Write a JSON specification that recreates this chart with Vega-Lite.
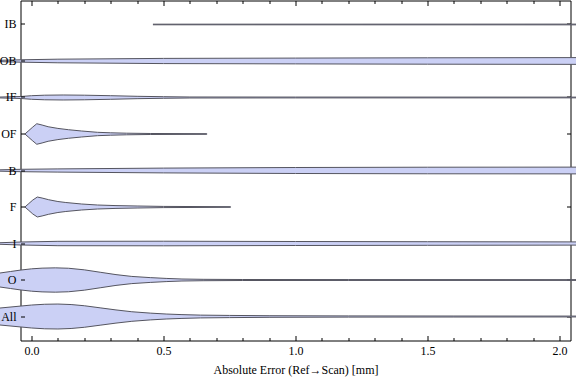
{
  "$schema": "https://vega.github.io/schema/vega-lite/v6.json",
  "autosize": {"type": "none"},
  "width": 550,
  "height": 340,
  "padding": {"left": 20.5, "top": 0.5, "right": 5.5, "bottom": 40.5},
  "background": "white",
  "config": {
    "view": {"stroke": "#000", "strokeWidth": 1},
    "font": "Liberation Serif"
  },
  "data": {"values": [
    {"cat":"IB","err":0.46,"h":-0.025},{"cat":"IB","err":2.1,"h":-0.03},{"cat":"IB","err":2.1,"h":0.03},{"cat":"IB","err":0.46,"h":0.025},

    {"cat":"OB","err":-0.15,"h":-0.041},{"cat":"OB","err":-0.04,"h":-0.098},{"cat":"OB","err":0.1,"h":-0.148},{"cat":"OB","err":0.5,"h":-0.213},{"cat":"OB","err":1.0,"h":-0.238},{"cat":"OB","err":1.5,"h":-0.262},{"cat":"OB","err":2.1,"h":-0.279},
    {"cat":"OB","err":2.1,"h":0.279},{"cat":"OB","err":1.5,"h":0.262},{"cat":"OB","err":1.0,"h":0.238},{"cat":"OB","err":0.5,"h":0.213},{"cat":"OB","err":0.1,"h":0.148},{"cat":"OB","err":-0.04,"h":0.098},{"cat":"OB","err":-0.15,"h":0.041},

    {"cat":"IF","err":-0.15,"h":-0.02},{"cat":"IF","err":-0.04,"h":-0.082},{"cat":"IF","err":0,"h":-0.148},{"cat":"IF","err":0.05,"h":-0.189},{"cat":"IF","err":0.12,"h":-0.205},{"cat":"IF","err":0.2,"h":-0.189},{"cat":"IF","err":0.3,"h":-0.148},{"cat":"IF","err":0.4,"h":-0.098},{"cat":"IF","err":0.5,"h":-0.066},{"cat":"IF","err":0.6,"h":-0.041},{"cat":"IF","err":1.0,"h":-0.035},{"cat":"IF","err":2.1,"h":-0.03},
    {"cat":"IF","err":2.1,"h":0.03},{"cat":"IF","err":1.0,"h":0.035},{"cat":"IF","err":0.6,"h":0.041},{"cat":"IF","err":0.5,"h":0.066},{"cat":"IF","err":0.4,"h":0.098},{"cat":"IF","err":0.3,"h":0.148},{"cat":"IF","err":0.2,"h":0.189},{"cat":"IF","err":0.12,"h":0.205},{"cat":"IF","err":0.05,"h":0.189},{"cat":"IF","err":0,"h":0.148},{"cat":"IF","err":-0.04,"h":0.082},{"cat":"IF","err":-0.15,"h":0.02},

    {"cat":"OF","err":-0.025,"h":0},{"cat":"OF","err":-0.01,"h":-0.287},{"cat":"OF","err":0.005,"h":-0.574},{"cat":"OF","err":0.02,"h":-0.844},{"cat":"OF","err":0.04,"h":-0.738},{"cat":"OF","err":0.063,"h":-0.598},{"cat":"OF","err":0.1,"h":-0.459},{"cat":"OF","err":0.14,"h":-0.352},{"cat":"OF","err":0.19,"h":-0.246},{"cat":"OF","err":0.25,"h":-0.139},{"cat":"OF","err":0.3,"h":-0.098},{"cat":"OF","err":0.36,"h":-0.066},{"cat":"OF","err":0.45,"h":-0.041},{"cat":"OF","err":0.664,"h":-0.025},
    {"cat":"OF","err":0.664,"h":0.025},{"cat":"OF","err":0.45,"h":0.041},{"cat":"OF","err":0.36,"h":0.066},{"cat":"OF","err":0.3,"h":0.098},{"cat":"OF","err":0.25,"h":0.139},{"cat":"OF","err":0.19,"h":0.246},{"cat":"OF","err":0.14,"h":0.352},{"cat":"OF","err":0.1,"h":0.459},{"cat":"OF","err":0.063,"h":0.598},{"cat":"OF","err":0.04,"h":0.738},{"cat":"OF","err":0.02,"h":0.844},{"cat":"OF","err":0.005,"h":0.574},{"cat":"OF","err":-0.01,"h":0.287},{"cat":"OF","err":-0.025,"h":0},

    {"cat":"B","err":-0.15,"h":-0.041},{"cat":"B","err":-0.04,"h":-0.098},{"cat":"B","err":0.1,"h":-0.131},{"cat":"B","err":0.5,"h":-0.197},{"cat":"B","err":1.0,"h":-0.246},{"cat":"B","err":1.5,"h":-0.27},{"cat":"B","err":2.1,"h":-0.279},
    {"cat":"B","err":2.1,"h":0.279},{"cat":"B","err":1.5,"h":0.27},{"cat":"B","err":1.0,"h":0.246},{"cat":"B","err":0.5,"h":0.197},{"cat":"B","err":0.1,"h":0.131},{"cat":"B","err":-0.04,"h":0.098},{"cat":"B","err":-0.15,"h":0.041},

    {"cat":"F","err":-0.025,"h":0},{"cat":"F","err":-0.01,"h":-0.287},{"cat":"F","err":0.005,"h":-0.574},{"cat":"F","err":0.022,"h":-0.82},{"cat":"F","err":0.04,"h":-0.738},{"cat":"F","err":0.065,"h":-0.598},{"cat":"F","err":0.1,"h":-0.451},{"cat":"F","err":0.13,"h":-0.369},{"cat":"F","err":0.19,"h":-0.246},{"cat":"F","err":0.25,"h":-0.164},{"cat":"F","err":0.32,"h":-0.115},{"cat":"F","err":0.4,"h":-0.082},{"cat":"F","err":0.5,"h":-0.049},{"cat":"F","err":0.754,"h":-0.025},
    {"cat":"F","err":0.754,"h":0.025},{"cat":"F","err":0.5,"h":0.049},{"cat":"F","err":0.4,"h":0.082},{"cat":"F","err":0.32,"h":0.115},{"cat":"F","err":0.25,"h":0.164},{"cat":"F","err":0.19,"h":0.246},{"cat":"F","err":0.13,"h":0.369},{"cat":"F","err":0.1,"h":0.451},{"cat":"F","err":0.065,"h":0.598},{"cat":"F","err":0.04,"h":0.738},{"cat":"F","err":0.022,"h":0.82},{"cat":"F","err":0.005,"h":0.574},{"cat":"F","err":-0.01,"h":0.287},{"cat":"F","err":-0.025,"h":0},

    {"cat":"I","err":-0.15,"h":-0.041},{"cat":"I","err":-0.04,"h":-0.123},{"cat":"I","err":0.1,"h":-0.18},{"cat":"I","err":0.5,"h":-0.189},{"cat":"I","err":1.0,"h":-0.164},{"cat":"I","err":1.5,"h":-0.148},{"cat":"I","err":2.1,"h":-0.131},
    {"cat":"I","err":2.1,"h":0.131},{"cat":"I","err":1.5,"h":0.148},{"cat":"I","err":1.0,"h":0.164},{"cat":"I","err":0.5,"h":0.189},{"cat":"I","err":0.1,"h":0.18},{"cat":"I","err":-0.04,"h":0.123},{"cat":"I","err":-0.15,"h":0.041},

    {"cat":"O","err":-0.2,"h":-0.33},{"cat":"O","err":-0.12,"h":-0.574},{"cat":"O","err":-0.08,"h":-0.697},{"cat":"O","err":-0.04,"h":-0.82},{"cat":"O","err":0,"h":-0.918},{"cat":"O","err":0.04,"h":-0.975},{"cat":"O","err":0.09,"h":-1.0},{"cat":"O","err":0.14,"h":-0.967},{"cat":"O","err":0.2,"h":-0.836},{"cat":"O","err":0.26,"h":-0.639},{"cat":"O","err":0.32,"h":-0.443},{"cat":"O","err":0.38,"h":-0.295},{"cat":"O","err":0.45,"h":-0.197},{"cat":"O","err":0.51,"h":-0.131},{"cat":"O","err":0.57,"h":-0.082},{"cat":"O","err":0.65,"h":-0.057},{"cat":"O","err":0.8,"h":-0.041},{"cat":"O","err":1.2,"h":-0.035},{"cat":"O","err":2.1,"h":-0.03},
    {"cat":"O","err":2.1,"h":0.03},{"cat":"O","err":1.2,"h":0.035},{"cat":"O","err":0.8,"h":0.041},{"cat":"O","err":0.65,"h":0.057},{"cat":"O","err":0.57,"h":0.082},{"cat":"O","err":0.51,"h":0.131},{"cat":"O","err":0.45,"h":0.197},{"cat":"O","err":0.38,"h":0.295},{"cat":"O","err":0.32,"h":0.443},{"cat":"O","err":0.26,"h":0.639},{"cat":"O","err":0.2,"h":0.836},{"cat":"O","err":0.14,"h":0.967},{"cat":"O","err":0.09,"h":1.0},{"cat":"O","err":0.04,"h":0.975},{"cat":"O","err":0,"h":0.918},{"cat":"O","err":-0.04,"h":0.82},{"cat":"O","err":-0.08,"h":0.697},{"cat":"O","err":-0.12,"h":0.574},{"cat":"O","err":-0.2,"h":0.33},

    {"cat":"All","err":-0.2,"h":-0.41},{"cat":"All","err":-0.12,"h":-0.697},{"cat":"All","err":-0.04,"h":-0.861},{"cat":"All","err":0,"h":-0.943},{"cat":"All","err":0.05,"h":-1.008},{"cat":"All","err":0.1,"h":-1.025},{"cat":"All","err":0.15,"h":-0.984},{"cat":"All","err":0.2,"h":-0.885},{"cat":"All","err":0.26,"h":-0.713},{"cat":"All","err":0.32,"h":-0.541},{"cat":"All","err":0.38,"h":-0.393},{"cat":"All","err":0.45,"h":-0.279},{"cat":"All","err":0.51,"h":-0.205},{"cat":"All","err":0.57,"h":-0.156},{"cat":"All","err":0.64,"h":-0.115},{"cat":"All","err":0.75,"h":-0.09},{"cat":"All","err":0.9,"h":-0.066},{"cat":"All","err":1.2,"h":-0.049},{"cat":"All","err":1.6,"h":-0.041},{"cat":"All","err":2.1,"h":-0.035},
    {"cat":"All","err":2.1,"h":0.035},{"cat":"All","err":1.6,"h":0.041},{"cat":"All","err":1.2,"h":0.049},{"cat":"All","err":0.9,"h":0.066},{"cat":"All","err":0.75,"h":0.09},{"cat":"All","err":0.64,"h":0.115},{"cat":"All","err":0.57,"h":0.156},{"cat":"All","err":0.51,"h":0.205},{"cat":"All","err":0.45,"h":0.279},{"cat":"All","err":0.38,"h":0.393},{"cat":"All","err":0.32,"h":0.541},{"cat":"All","err":0.26,"h":0.713},{"cat":"All","err":0.2,"h":0.885},{"cat":"All","err":0.15,"h":0.984},{"cat":"All","err":0.1,"h":1.025},{"cat":"All","err":0.05,"h":1.008},{"cat":"All","err":0,"h":0.943},{"cat":"All","err":-0.04,"h":0.861},{"cat":"All","err":-0.12,"h":0.697},{"cat":"All","err":-0.2,"h":0.41}
  ]},
  "layer": [
    {
      "mark": {"type": "line", "fill": "#cbd0f5", "stroke": "#555560", "strokeWidth": 1, "clip": false},
      "encoding": {
        "x": {
          "field": "err", "type": "quantitative",
          "scale": {"domain": [-0.0417, 2.0417], "nice": false, "zero": false},
          "axis": {
            "orient": "bottom",
            "values": [0,0.1,0.2,0.3,0.4,0.5,0.6,0.7,0.8,0.9,1.0,1.1,1.2,1.3,1.4,1.5,1.6,1.7,1.8,1.9,2.0],
            "labelExpr": "abs(datum.value*2 - round(datum.value*2)) < 0.001 ? format(datum.value, '.1f') : ''",
            "tickSize": {"condition": {"test": "abs(datum.value*2 - round(datum.value*2)) < 0.001", "value": -5}, "value": -3},
            "tickColor": "#000", "tickWidth": 1,
            "domain": false, "grid": false,
            "labelPadding": 10, "labelFont": "Liberation Serif", "labelFontSize": 12, "labelColor": "#000",
            "labelFlush": false, "labelOverlap": false,
            "title": "Absolute Error (Ref→Scan) [mm]",
            "titleFont": "Liberation Serif", "titleFontSize": 12, "titleFontWeight": "normal", "titleColor": "#000",
            "titlePadding": 6
          }
        },
        "y": {
          "field": "cat", "type": "nominal",
          "scale": {"type": "band", "domain": ["IB","OB","IF","OF","B","F","I","O","All"], "paddingInner": 0, "paddingOuter": 0.157},
          "axis": {
            "orient": "left", "title": null, "domain": false, "grid": false, "zindex": 1,
            "tickSize": -4, "tickColor": "#000", "tickWidth": 1,
            "labelPadding": 8.5, "labelFont": "Liberation Serif", "labelFontSize": 12, "labelColor": "#000"
          }
        },
        "yOffset": {"field": "h", "type": "quantitative", "scale": {"domain": [-1.5, 1.5], "nice": false, "zero": false}},
        "detail": {"field": "cat"},
        "order": {"value": null}
      }
    },
    {
      "mark": {"type": "point", "opacity": 0},
      "encoding": {
        "x": {
          "field": "err", "type": "quantitative",
          "axis": {
            "orient": "top",
            "values": [0,0.1,0.2,0.3,0.4,0.5,0.6,0.7,0.8,0.9,1.0,1.1,1.2,1.3,1.4,1.5,1.6,1.7,1.8,1.9,2.0],
            "labels": false,
            "tickSize": {"condition": {"test": "abs(datum.value*2 - round(datum.value*2)) < 0.001", "value": -5}, "value": -3},
            "tickColor": "#000", "tickWidth": 1,
            "domain": false, "grid": false, "title": null
          }
        },
        "y": {
          "field": "cat", "type": "nominal",
          "axis": {
            "orient": "right", "labels": false, "title": null, "domain": false, "grid": false,
            "tickSize": -4, "tickColor": "#000", "tickWidth": 1
          }
        }
      }
    }
  ],
  "resolve": {"axis": {"x": "independent", "y": "independent"}}
}
